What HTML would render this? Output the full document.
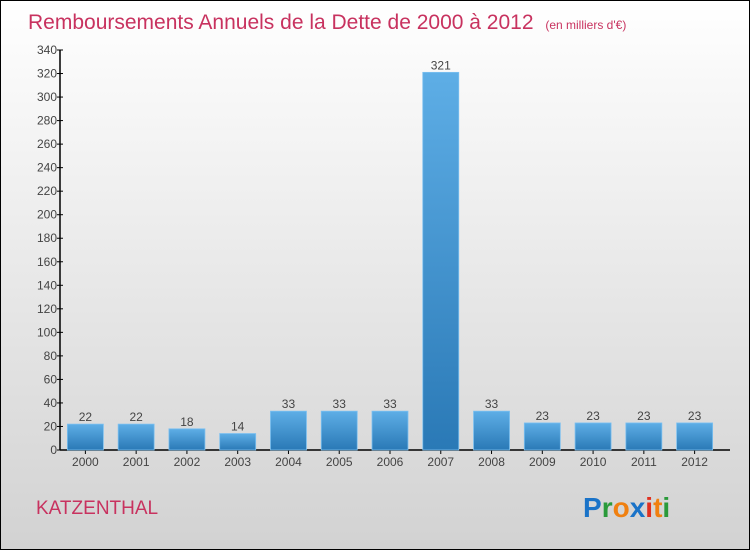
<!DOCTYPE html>
<html><head><meta charset="utf-8"><style>
html,body{margin:0;padding:0;}
body{width:750px;height:550px;overflow:hidden;font-family:"Liberation Sans",sans-serif;}
</style></head><body>
<svg id="chart" width="750" height="550" xmlns="http://www.w3.org/2000/svg">
<defs>
<linearGradient id="bg" x1="0" y1="0" x2="0" y2="1"><stop offset="0" stop-color="#ffffff"/><stop offset="1" stop-color="#d2d2d2"/></linearGradient>
<linearGradient id="bar" x1="0" y1="0" x2="0" y2="1"><stop offset="0" stop-color="#5eaee6"/><stop offset="1" stop-color="#2a79b6"/></linearGradient>
</defs>
<rect x="0.5" y="0.5" width="749" height="549" fill="url(#bg)" stroke="#000"/>
<text x="28" y="29" font-size="21" fill="#c8325f">Remboursements Annuels de la Dette de 2000 à 2012 <tspan font-size="12" dx="6">(en milliers d'€)</tspan></text>
<text x="36" y="514" font-size="19" fill="#c8325f">KATZENTHAL</text>
<g font-size="28" font-weight="bold">
<text x="583" y="517"><tspan fill="#1a73c8">P</tspan><tspan fill="#2a9a3a">r</tspan><tspan fill="#f08010">o</tspan><tspan fill="#1a73c8">x</tspan><tspan fill="#e03020">i</tspan><tspan fill="#f08010">t</tspan><tspan fill="#2a9a3a">i</tspan></text>
</g>
<g id="axes"></g>
<g id="bars"></g>
</svg>
<script>
const categories=["2000","2001","2002","2003","2004","2005","2006","2007","2008","2009","2010","2011","2012"];
const values=[22,22,18,14,33,33,33,321,33,23,23,23,23];
const yTicks=[0,20,40,60,80,100,120,140,160,180,200,220,240,260,280,300,320,340];
const NS="http://www.w3.org/2000/svg";
const x0=60,x1=720,y0=450,yTop=50,yMax=340;
const band=(x1-x0)/categories.length;
const yS=v=>y0-(v/yMax)*(y0-yTop);
const xC=i=>x0+band*(i+0.5);
function mk(tag,attrs,parent,txt){const e=document.createElementNS(NS,tag);for(const k in attrs)e.setAttribute(k,attrs[k]);if(txt!==undefined)e.textContent=txt;parent.appendChild(e);return e;}
const ax=document.getElementById('axes'),bg=document.getElementById('bars');
let e=mk('line',{x1:x0,y1:yTop,x2:x0,y2:y0,stroke:'#000','stroke-width':1.5},ax);


e=mk('line',{x1:x0,y1:y0,x2:x1+10,y2:y0,stroke:'#000','stroke-width':1.5},ax);


yTicks.forEach(t=>{
 const y=yS(t);
 const l=mk('line',{x1:x0-3,y1:y,x2:x0+3,y2:y,stroke:'#000'},ax);
 
 
 const tx=mk('text',{x:x0-3,y:y+4,'font-size':12,fill:'#444','text-anchor':'end'},ax,t);
 
 
});
categories.forEach((c,i)=>{
 const cx=xC(i),bw=36,y=yS(values[i]);
 const r=mk('rect',{x:cx-bw/2,y:y,width:bw,height:y0-y,fill:'url(#bar)',stroke:'#7cc0f0','stroke-width':0.8},bg);
 
 
 const v=mk('text',{x:cx,y:y-3,'font-size':12,fill:'#444','text-anchor':'middle'},bg,values[i]);
 
 
 const tk=mk('line',{x1:cx,y1:y0,x2:cx,y2:y0+4,stroke:'#000'},ax);
 
 
 const t=mk('text',{x:cx,y:y0+16,'font-size':12,fill:'#444','text-anchor':'middle'},ax,c);
 
 
});
</script>
</body></html>
